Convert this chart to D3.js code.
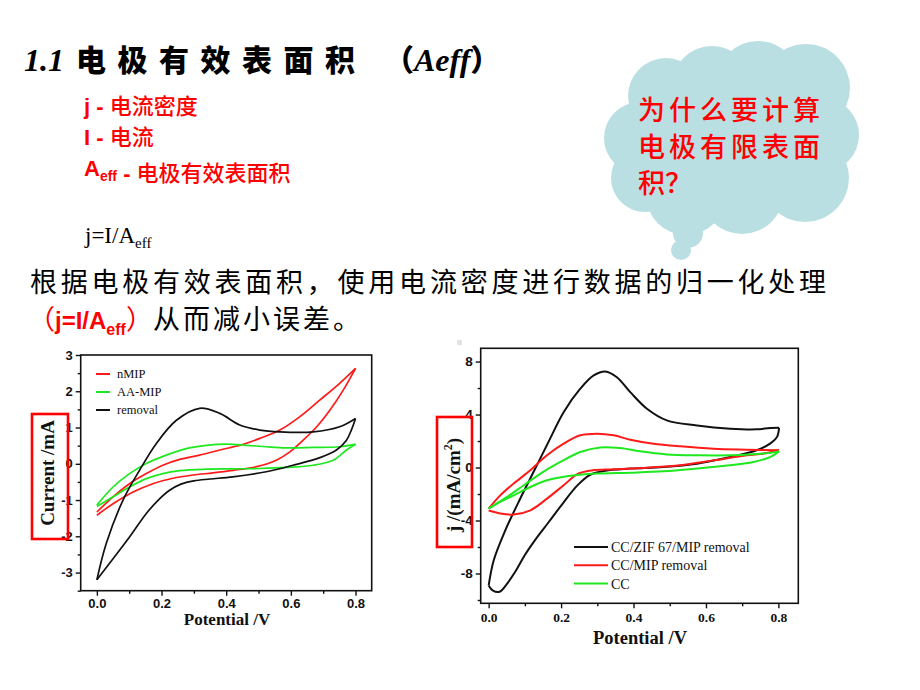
<!DOCTYPE html>
<html><head><meta charset="utf-8">
<script src="https://cdn.jsdelivr.net/npm/d3@7"></script>
<style>
html,body{margin:0;padding:0;background:#fff;}
svg{display:block;}
</style></head>
<body>
<svg id="c" width="920" height="690"></svg>
<script>
// ---------- data ----------
const potentialTicks = [0, 0.2, 0.4, 0.6, 0.8];
const potentialLabels = ["0.0", "0.2", "0.4", "0.6", "0.8"];
const potentialMinor = [0.1, 0.3, 0.5, 0.7];
const currentTicks = [-3, -2, -1, 0, 1, 2, 3];
const currentLabels = ["-3", "-2", "-1", "0", "1", "2", "3"];
const currentMinor = [-3.5, -2.5, -1.5, -0.5, 0.5, 1.5, 2.5];
const jTicks = [-8, -4, 0, 4, 8];
const jLabels = ["-8", "-4", "0", "4", "8"];
const jMinor = [-10, -6, -2, 2, 6];

const leftNames = ["nMIP", "AA-MIP", "removal"];
const rightNames = ["CC/ZIF 67/MIP removal", "CC/MIP removal", "CC"];

// Left chart (Current /mA vs Potential /V)
const nmipUpper = [[0,-1.33],[0.05,-0.91],[0.101,-0.55],[0.153,-0.27],[0.204,-0.04],[0.256,0.12],[0.318,0.24],[0.38,0.38],[0.442,0.51],[0.504,0.7],[0.566,0.93],[0.628,1.3],[0.69,1.76],[0.751,2.22],[0.8,2.63]];
const nmipLower = [[0.8,2.63],[0.762,2.03],[0.721,1.48],[0.68,1.02],[0.638,0.65],[0.597,0.33],[0.555,0.1],[0.494,-0.08],[0.421,-0.18],[0.359,-0.25],[0.297,-0.31],[0.235,-0.4],[0.173,-0.55],[0.112,-0.78],[0.05,-1.1],[0,-1.42]];
const aamipUpper = [[0,-1.14],[0.05,-0.64],[0.101,-0.27],[0.153,0.01],[0.215,0.24],[0.277,0.42],[0.339,0.51],[0.4,0.54],[0.462,0.51],[0.524,0.47],[0.586,0.44],[0.669,0.45],[0.751,0.47],[0.8,0.54]];
const aamipLower = [[0.8,0.54],[0.772,0.38],[0.731,0.1],[0.669,-0.04],[0.586,-0.1],[0.504,-0.13],[0.421,-0.14],[0.339,-0.15],[0.256,-0.19],[0.204,-0.27],[0.153,-0.41],[0.101,-0.64],[0.05,-0.91],[0,-1.18]];
const removalUpper = [[0,-3.2],[0.029,-2.2],[0.081,-1.0],[0.132,-0.18],[0.184,0.56],[0.246,1.2],[0.318,1.53],[0.38,1.39],[0.442,1.07],[0.504,0.93],[0.566,0.88],[0.669,0.88],[0.751,1.02],[0.8,1.25]];
const removalLower = [[0.8,1.25],[0.787,0.93],[0.772,0.65],[0.741,0.38],[0.69,0.17],[0.607,-0.04],[0.524,-0.22],[0.42,-0.36],[0.35,-0.42],[0.3,-0.47],[0.26,-0.56],[0.225,-0.73],[0.19,-1.0],[0.153,-1.37],[0.101,-2.02],[0.05,-2.62],[0,-3.2]];

// Right chart (j /(mA/cm2) vs Potential /V)
const zifUpper = [[0,-8.9],[0.014,-7.0],[0.045,-4.8],[0.088,-2.3],[0.13,0.0],[0.17,2.2],[0.207,4.18],[0.253,5.95],[0.29,6.95],[0.322,7.25],[0.354,6.82],[0.391,5.69],[0.437,4.44],[0.492,3.56],[0.575,3.18],[0.667,2.93],[0.74,2.88],[0.777,2.98],[0.802,3.0]];
const zifLower = [[0.802,3.0],[0.796,2.3],[0.777,1.8],[0.74,1.3],[0.667,0.79],[0.575,0.29],[0.483,0.04],[0.391,-0.08],[0.322,-0.24],[0.28,-0.55],[0.245,-1.35],[0.205,-2.7],[0.165,-4.15],[0.13,-5.4],[0.1,-6.6],[0.075,-7.8],[0.05,-8.8],[0.03,-9.38],[0.012,-9.3],[0,-8.9]];
const mipUpper = [[0,-3.1],[0.032,-2.1],[0.069,-1.21],[0.115,-0.21],[0.161,0.92],[0.207,1.8],[0.253,2.43],[0.299,2.55],[0.345,2.43],[0.391,2.1],[0.455,1.8],[0.529,1.6],[0.621,1.42],[0.713,1.35],[0.802,1.3]];
const mipLower = [[0.802,1.3],[0.76,1.05],[0.713,0.92],[0.621,0.54],[0.529,0.17],[0.437,-0.01],[0.345,-0.13],[0.285,-0.22],[0.245,-0.5],[0.207,-1.34],[0.161,-2.35],[0.115,-3.23],[0.069,-3.55],[0.032,-3.47],[0,-3.25]];
const ccUpper = [[0,-3.1],[0.051,-2.22],[0.097,-1.34],[0.143,-0.46],[0.198,0.42],[0.253,1.17],[0.308,1.52],[0.363,1.47],[0.418,1.22],[0.492,0.99],[0.575,0.92],[0.667,0.92],[0.759,1.05],[0.802,1.22]];
const ccLower = [[0.802,1.22],[0.777,0.79],[0.731,0.42],[0.667,0.17],[0.575,-0.08],[0.483,-0.29],[0.391,-0.39],[0.299,-0.46],[0.216,-0.66],[0.161,-0.96],[0.115,-1.47],[0.069,-2.1],[0.023,-2.72],[0,-3.1]];

const RED = "#ff1a1a", GREEN = "#1ee81e", BLACK = "#111";
const CJK = "'Noto Sans CJK SC','Noto Sans',sans-serif";
const ARIAL = "'Liberation Sans',Arial,sans-serif";
const TIMES = "'Liberation Serif','Times New Roman',serif";

const svg = d3.select("#c");
svg.append("rect").attr("width",920).attr("height",690).attr("fill","#fff");

// ---------- slide text ----------
const title = svg.append("text").attr("x",24).attr("y",71).attr("font-family",CJK).attr("font-weight",900).attr("font-size",30).attr("fill","#000");
title.append("tspan").attr("font-style","italic").attr("font-family",TIMES).attr("font-size",32).text("1.1 ");
title.append("tspan").attr("x",76).attr("letter-spacing",11.5).text("电极有效表面积");
title.append("tspan").attr("x",384).text("（");
title.append("tspan").attr("font-style","italic").attr("font-family",TIMES).attr("font-size",32).text("Aeff");
title.append("tspan").text("）");

function redLine(y, lead, sub, rest){
  const t = svg.append("text").attr("x",84).attr("y",y).attr("fill","#ff0000").attr("font-size",22);
  t.append("tspan").attr("font-family",ARIAL).attr("font-weight","bold").text(lead);
  if(sub){ t.append("tspan").attr("font-family",ARIAL).attr("font-weight","bold").attr("font-size",14).attr("dy",5).text(sub);
           t.append("tspan").attr("dy",-5).text(""); }
  t.append("tspan").attr("font-family",ARIAL).attr("font-weight","bold").text(" - ");
  t.append("tspan").attr("font-family",CJK).attr("font-weight",500).text(rest);
}
redLine(114,"j",null,"电流密度");
redLine(145,"I",null,"电流");
redLine(176,"A","eff","电极有效表面积");

const jeq = svg.append("text").attr("x",85).attr("y",243).attr("font-family",TIMES).attr("font-size",23).attr("fill","#000");
jeq.append("tspan").text("j=I/A");
jeq.append("tspan").attr("font-size",15).attr("dy",5).text("eff");

svg.append("text").attr("x",30).attr("y",292).attr("font-family",CJK).attr("font-size",27)
  .attr("textLength",796).attr("lengthAdjust","spacing").attr("fill","#000")
  .text("根据电极有效表面积，使用电流密度进行数据的归一化处理");
const l2 = svg.append("text").attr("x",28).attr("y",329).attr("font-size",27).attr("fill","#000");
l2.append("tspan").attr("font-family",CJK).attr("fill","#ff0000").text("（");
l2.append("tspan").attr("font-family",ARIAL).attr("font-weight","bold").attr("font-size",24).attr("fill","#ff0000").text("j=I/A");
l2.append("tspan").attr("font-family",ARIAL).attr("font-weight","bold").attr("font-size",16).attr("dy",6).attr("fill","#ff0000").text("eff");
l2.append("tspan").attr("font-family",CJK).attr("dy",-6).attr("fill","#ff0000").text("）");
l2.append("tspan").attr("font-family",CJK).attr("letter-spacing",3).text("从而减小误差。");

// ---------- cloud ----------
const cloud = svg.append("g").attr("fill","#badfe3");
[[640,138,36],[666,96,38],[712,86,40],[758,82,41],[806,88,44],[822,135,37],[805,178,44],[742,192,42],[686,195,40],[645,178,34],[730,140,70]]
  .forEach(c=>cloud.append("circle").attr("cx",c[0]).attr("cy",c[1]).attr("r",c[2]));
cloud.append("circle").attr("cx",688).attr("cy",233).attr("r",15);
cloud.append("circle").attr("cx",681).attr("cy",250).attr("r",10);
const ct = svg.append("g").attr("font-family",CJK).attr("font-size",27).attr("font-weight",500).attr("fill","#ff0000");
ct.append("text").attr("x",638).attr("y",120).attr("textLength",182).attr("lengthAdjust","spacing").text("为什么要计算");
ct.append("text").attr("x",638).attr("y",157).attr("textLength",182).attr("lengthAdjust","spacing").text("电极有限表面");
ct.append("text").attr("x",638).attr("y",193).text("积？");

// ---------- chart helper ----------
function drawChart(o){
  const g = svg.append("g");
  const x = d3.scaleLinear().domain(o.xd).range(o.xr);
  const y = d3.scaleLinear().domain(o.yd).range(o.yr);
  const line = d3.line().x(d=>x(d[0])).y(d=>y(d[1])).curve(d3.curveCatmullRom.alpha(0.5));
  o.series.forEach(s=>{
    s.parts.forEach(p=>g.append("path").attr("d",line(p)).attr("fill","none")
      .attr("stroke",s.color).attr("stroke-width",o.lw).attr("stroke-linejoin","round"));
  });
  // frame
  g.append("rect").attr("x",o.xr[0]).attr("y",o.yr[1]).attr("width",o.xr[1]-o.xr[0]).attr("height",o.yr[0]-o.yr[1])
    .attr("fill","none").attr("stroke","#111").attr("stroke-width",1.6);
  // axes
  const xa = g.append("g").attr("transform",`translate(0,${o.yr[0]})`)
    .call(d3.axisBottom(x).tickValues(potentialTicks).tickFormat((d,i)=>potentialLabels[i]).tickSize(5).tickPadding(o.xpad).tickSizeOuter(0));
  const xm = g.append("g").attr("transform",`translate(0,${o.yr[0]})`)
    .call(d3.axisBottom(x).tickValues(potentialMinor).tickFormat("").tickSize(3).tickSizeOuter(0));
  const ya = g.append("g").attr("transform",`translate(${o.xr[0]},0)`)
    .call(d3.axisLeft(y).tickValues(o.yt).tickFormat((d,i)=>o.yl[i]).tickSize(5).tickPadding(o.ypad).tickSizeOuter(0));
  const ym = g.append("g").attr("transform",`translate(${o.xr[0]},0)`)
    .call(d3.axisLeft(y).tickValues(o.ym).tickFormat("").tickSize(3).tickSizeOuter(0));
  [xa,xm,ya,ym].forEach(a=>{a.select(".domain").remove(); a.selectAll("line").attr("stroke","#111").attr("stroke-width",1.4);});
  xa.selectAll("text").attr("font-family",o.xfont).attr("font-weight","bold").attr("font-size",o.fs).attr("fill","#111");
  ya.selectAll("text").attr("font-family",ARIAL).attr("font-weight","bold").attr("font-size",o.fs).attr("fill","#111");
  // titles
  g.append("text").attr("x",o.xtPos[0]).attr("y",o.xtPos[1]).attr("text-anchor","middle")
    .attr("font-family",TIMES).attr("font-weight","bold").attr("font-size",o.tfs).attr("fill","#111").text("Potential /V");
  const yt = g.append("text").attr("transform",`translate(${o.ytPos[0]},${o.ytPos[1]}) rotate(-90)`).attr("text-anchor","middle")
    .attr("font-family",TIMES).attr("font-weight","bold").attr("font-size",o.ytfs).attr("fill","#111");
  o.ytitle(yt);
  // highlight box
  g.append("rect").attr("x",o.box[0]).attr("y",o.box[1]).attr("width",o.box[2]).attr("height",o.box[3])
    .attr("fill","none").attr("stroke","#ff0000").attr("stroke-width",2.6);
  // legend
  o.series.forEach((s,i)=>{
    const ly = o.leg.y0 + i*o.leg.dy;
    g.append("line").attr("x1",o.leg.x1).attr("x2",o.leg.x2).attr("y1",ly).attr("y2",ly).attr("stroke",s.color).attr("stroke-width",2);
    g.append("text").attr("x",o.leg.tx).attr("y",ly).attr("dy","0.35em").attr("font-family",TIMES)
      .attr("font-size",o.leg.fs).attr("fill","#111").text(s.name);
  });
}

drawChart({
  xd:[-0.05,0.85], xr:[80.7,371.7], yd:[-3.5,3], yr:[590.7,355],
  yt:currentTicks, yl:currentLabels, ym:currentMinor, fs:13, xfont:ARIAL, xpad:3, ypad:3, lw:1.7, tfs:17, ytfs:19,
  series:[{name:leftNames[0],color:RED,parts:[nmipUpper,nmipLower]},
          {name:leftNames[1],color:GREEN,parts:[aamipUpper,aamipLower]},
          {name:leftNames[2],color:BLACK,parts:[removalUpper,removalLower]}],
  xtPos:[227,625], ytPos:[54,473], ytitle:t=>t.text("Current /mA"),
  box:[32,414,36,125],
  leg:{x1:96,x2:110,tx:117,y0:374,dy:18,fs:12.5}
});

drawChart({
  xd:[-0.022,0.855], xr:[480.7,798.3], yd:[-10.25,9], yr:[603.3,348.3],
  yt:jTicks, yl:jLabels, ym:jMinor, fs:13.5, xfont:TIMES, xpad:4, ypad:3, lw:2, tfs:18.5, ytfs:19,
  series:[{name:rightNames[0],color:BLACK,parts:[zifUpper,zifLower]},
          {name:rightNames[1],color:RED,parts:[mipUpper,mipLower]},
          {name:rightNames[2],color:GREEN,parts:[ccUpper,ccLower]}],
  xtPos:[640,644], ytPos:[460,485], ytitle:t=>{t.append("tspan").text("j /(mA/cm");
     t.append("tspan").attr("font-size",12).attr("dy",-8).text("2");
     t.append("tspan").attr("dy",8).text(")");},
  box:[437,417,35,130],
  leg:{x1:574,x2:608,tx:611,y0:547,dy:18.3,fs:14}
});
svg.append("rect").attr("x",457).attr("y",340).attr("width",5).attr("height",5).attr("fill","#e2e2e2");
</script>
</body></html>
